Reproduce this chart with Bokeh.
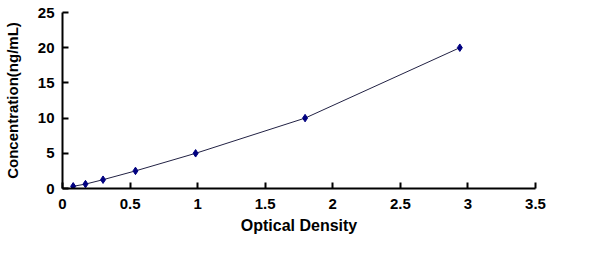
from bokeh.plotting import figure
from bokeh.models import FixedTicker, Range1d
from bokeh.embed import file_html
from bokeh.resources import INLINE

# Data
od = [0.079, 0.17, 0.30, 0.54, 0.985, 1.795, 2.94]
conc = [0.312, 0.625, 1.25, 2.5, 5, 10, 20]

x_ticks = [0, 0.5, 1, 1.5, 2, 2.5, 3, 3.5]
x_tick_labels = ["0", "0.5", "1", "1.5", "2", "2.5", "3", "3.5"]
y_ticks = [0, 5, 10, 15, 20, 25]
y_tick_labels = ["0", "5", "10", "15", "20", "25"]

FONT = "Liberation Sans"

p = figure(width=600, height=274, output_backend="svg", toolbar_location=None,
           x_range=Range1d(0, 3.5), y_range=Range1d(0, 25),
           min_border_left=61, min_border_right=65, min_border_top=12, min_border_bottom=86)
p.outline_line_color = None
p.xgrid.visible = False
p.ygrid.visible = False
p.background_fill_color = "white"
p.border_fill_color = "white"

p.line(od, conc, line_color="#222244", line_width=1)
p.scatter(od, conc, marker="diamond", size=7.5, fill_color="#000080", line_color="#000080")

for ax, ticks, labels in ((p.xaxis[0], x_ticks, x_tick_labels), (p.yaxis[0], y_ticks, y_tick_labels)):
    ax.ticker = FixedTicker(ticks=ticks)
    ax.major_label_overrides = {t: l for t, l in zip(ticks, labels)}
    ax.axis_line_width = 2
    ax.axis_line_color = "black"
    ax.major_tick_line_width = 2
    ax.major_tick_line_color = "black"
    ax.major_tick_in = 6
    ax.major_tick_out = 0
    ax.minor_tick_line_color = None
    ax.major_label_text_font = FONT
    ax.major_label_text_font_style = "bold"
    ax.major_label_text_font_size = "15px"
    ax.major_label_text_color = "black"
    ax.axis_label_text_font = FONT
    ax.axis_label_text_font_style = "bold"
    ax.axis_label_text_font_size = "15px"
    ax.axis_label_text_color = "black"

p.xaxis.axis_label = "Optical Density"
p.xaxis.axis_label_text_font_size = "16px"
p.yaxis.axis_label = "Concentration(ng/mL)"
p.xaxis.major_label_standoff = 10
p.xaxis.axis_label_standoff = 5
p.yaxis.major_label_standoff = 8
p.yaxis.axis_label_standoff = 14

open("out.html", "w").write(file_html(p, INLINE))
